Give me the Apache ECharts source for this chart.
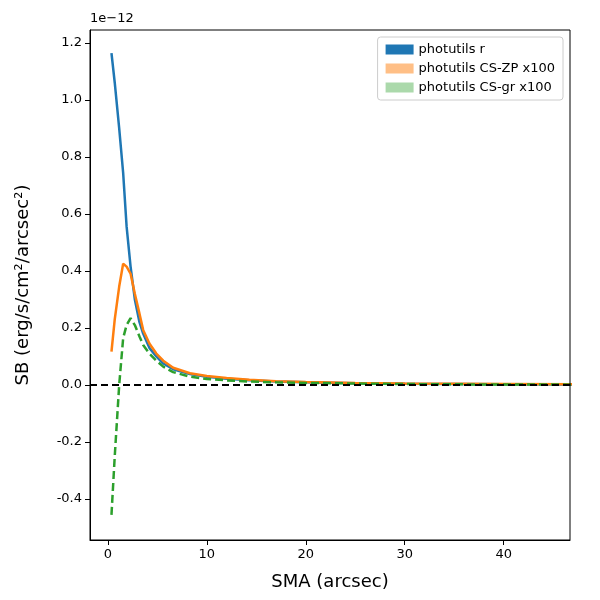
<!DOCTYPE html>
<html>
<head>
<meta charset="utf-8">
<script src="https://cdn.jsdelivr.net/npm/echarts@6/dist/echarts.min.js"></script>
<style>body{margin:0}#c{width:600px;height:600px}</style>
</head>
<body>
<div id="c"></div>
<script>
// SMA values (arcsec), SB in units of 1e-12
var sma = [0.37, 0.7, 1.15, 1.55, 1.9, 2.3, 2.73, 3.2, 3.57, 4.2, 4.9, 5.6, 6.6, 8.3, 10, 12, 14.3, 17, 20, 25, 30, 35, 40, 47];
var sbR = [1.164, 1.06, 0.9, 0.744, 0.555, 0.415, 0.30, 0.22, 0.18, 0.13, 0.10, 0.075, 0.055, 0.038, 0.029, 0.022, 0.016, 0.012, 0.009, 0.006, 0.004, 0.003, 0.002, 0.0015];
var sbZP = [0.117, 0.23, 0.345, 0.425, 0.415, 0.39, 0.32, 0.25, 0.193, 0.145, 0.11, 0.085, 0.06, 0.041, 0.031, 0.024, 0.018, 0.013, 0.010, 0.007, 0.005, 0.004, 0.003, 0.002];
var sbGR = [-0.456, -0.25, 0.0, 0.164, 0.21, 0.234, 0.21, 0.17, 0.14, 0.11, 0.085, 0.064, 0.045, 0.029, 0.021, 0.016, 0.012, 0.009, 0.007, 0.005, 0.003, 0.002, 0.0015, 0.001];
var xTicks = [0, 10, 20, 30, 40];
var yTicks = [-0.4, -0.2, 0.0, 0.2, 0.4, 0.6, 0.8, 1.0, 1.2];

function pairs(ys) { return sma.map(function (x, i) { return [x, ys[i]]; }); }

var chart = echarts.init(document.getElementById('c'));
chart.setOption({
    animation: false,
    textStyle: { fontFamily: 'DejaVu Sans' },
    grid: { left: 90, right: 30, top: 30, bottom: 60 },
    graphic: [
        { type: 'text', left: 90, top: 12, style: { text: '1e\u221212', fontSize: 13, fill: '#000', fontFamily: 'DejaVu Sans' } },
        // frame around plot area
        { type: 'rect', shape: { x: 90, y: 30, width: 480, height: 510 }, style: { fill: 'none', stroke: '#000', lineWidth: 1 }, silent: true, z: 10 }
    ],
    legend: {
        right: 37, top: 37, orient: 'vertical', itemGap: 6,
        itemWidth: 28, itemHeight: 10, icon: 'rect',
        borderColor: '#ccc', borderWidth: 1, borderRadius: 3, padding: [6, 8],
        textStyle: { fontSize: 13, color: '#000' },
        data: [
            { name: 'photutils r', itemStyle: { color: '#1f77b4' } },
            { name: 'photutils CS-ZP x100', itemStyle: { color: 'rgba(255,127,14,0.5)' } },
            { name: 'photutils CS-gr x100', itemStyle: { color: 'rgba(44,160,44,0.4)' } }
        ]
    },
    xAxis: {
        type: 'value', min: -1.8, max: 46.7,
        name: 'SMA (arcsec)', nameLocation: 'middle', nameGap: 33,
        nameTextStyle: { fontSize: 18, color: '#000' },
        axisLine: { onZero: false, lineStyle: { color: '#000' } },
        axisTick: { show: true, customValues: xTicks, lineStyle: { color: '#000' } },
        axisLabel: { customValues: xTicks, color: '#000', fontSize: 13 },
        splitLine: { show: false }
    },
    yAxis: {
        type: 'value', min: -0.544, max: 1.245,
        name: 'SB (erg/s/cm\u00b2/arcsec\u00b2)', nameLocation: 'middle', nameGap: 58,
        nameTextStyle: { fontSize: 18, color: '#000' },
        axisLine: { show: true, onZero: false, lineStyle: { color: '#000' } },
        axisTick: { show: true, customValues: yTicks, lineStyle: { color: '#000' } },
        axisLabel: { customValues: yTicks, color: '#000', fontSize: 13, formatter: function (v) { return v.toFixed(1); } },
        splitLine: { show: false }
    },
    series: [
        {
            name: 'photutils r', type: 'line', data: pairs(sbR), showSymbol: false,
            lineStyle: { color: '#1f77b4', width: 2.5 }, itemStyle: { color: '#1f77b4' },
            markLine: {
                silent: true, symbol: 'none', label: { show: false },
                lineStyle: { color: '#000', type: [7, 4], width: 1.8 },
                data: [{ yAxis: 0 }]
            }
        },
        {
            name: 'photutils CS-ZP x100', type: 'line', data: pairs(sbZP), showSymbol: false,
            lineStyle: { color: '#ff7f0e', width: 2.5 }, itemStyle: { color: '#ff7f0e' }
        },
        {
            name: 'photutils CS-gr x100', type: 'line', data: pairs(sbGR), showSymbol: false,
            lineStyle: { color: '#2ca02c', width: 2.5, type: [8, 4] }, itemStyle: { color: '#2ca02c' }
        }
    ]
});
</script>
</body>
</html>
